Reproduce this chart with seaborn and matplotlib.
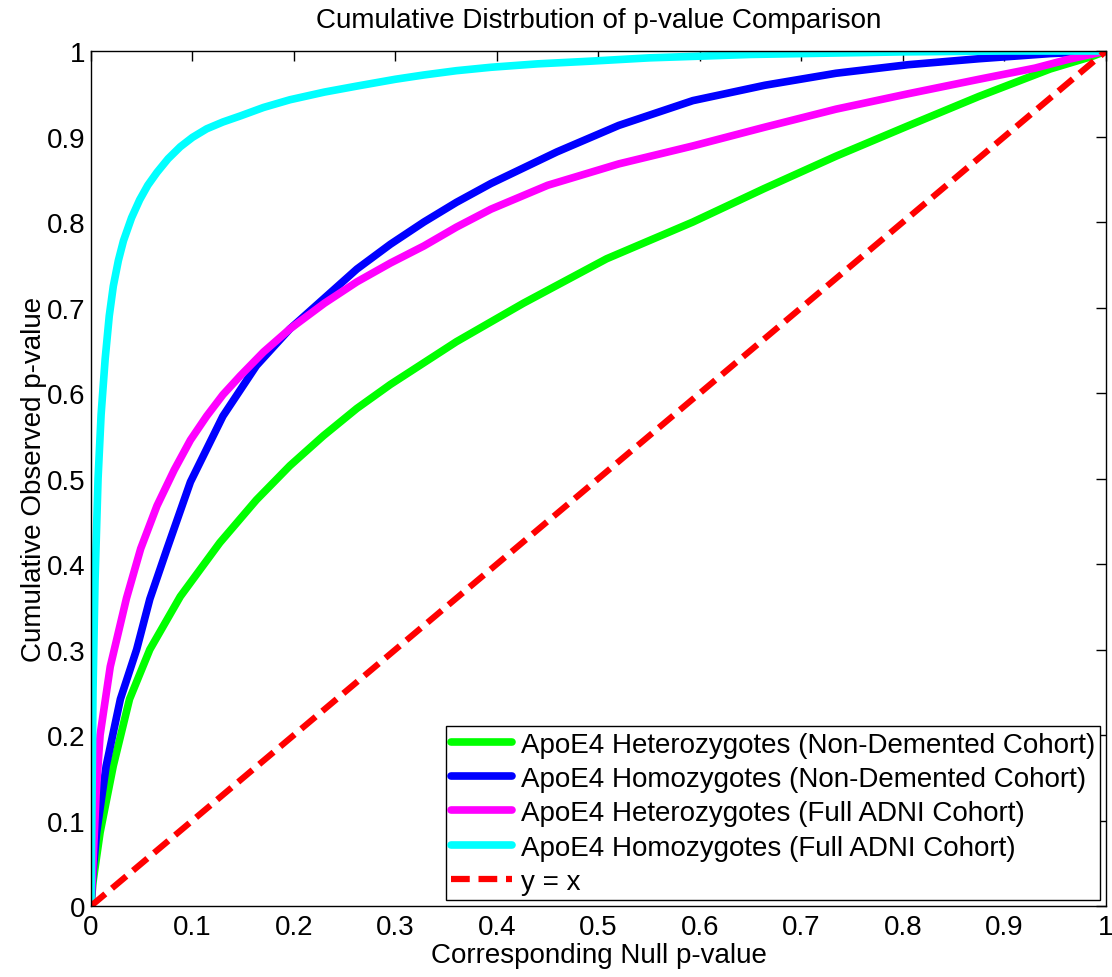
import seaborn as sns
import matplotlib.pyplot as plt

# values (null p-value -> cumulative observed p-value)
het_nd_x = [0, 0.002, 0.009, 0.022, 0.038, 0.058, 0.088, 0.127, 0.163, 0.196, 0.229, 0.262, 0.295,
            0.36, 0.426, 0.508, 0.593, 0.663, 0.734, 0.804, 0.875, 0.945, 0.987, 1.0]
het_nd_y = [0, 0.028, 0.086, 0.164, 0.242, 0.30, 0.362, 0.425, 0.475, 0.515, 0.55, 0.582, 0.61,
            0.66, 0.705, 0.757, 0.80, 0.839, 0.877, 0.912, 0.947, 0.979, 0.994, 1.0]

hom_nd_x = [0, 0.002, 0.0056, 0.015, 0.029, 0.045, 0.058, 0.075, 0.098, 0.13, 0.163, 0.196,
            0.229, 0.262, 0.295, 0.328, 0.36, 0.394, 0.459, 0.52, 0.593, 0.664, 0.734, 0.805,
            0.875, 0.945, 1.0]
hom_nd_y = [0, 0.04, 0.086, 0.164, 0.242, 0.30, 0.359, 0.418, 0.496, 0.573, 0.632, 0.675,
            0.71, 0.745, 0.774, 0.80, 0.823, 0.845, 0.882, 0.913, 0.942, 0.96, 0.974, 0.984,
            0.991, 0.997, 1.0]

het_full_x = [0, 0.002, 0.005, 0.009, 0.019, 0.035, 0.049, 0.065, 0.082, 0.098, 0.114, 0.13,
              0.147, 0.17, 0.196, 0.23, 0.262, 0.295, 0.328, 0.36, 0.394, 0.45, 0.52, 0.593,
              0.664, 0.734, 0.805, 0.875, 0.93, 0.962, 1.0]
het_full_y = [0, 0.05, 0.13, 0.2, 0.28, 0.36, 0.418, 0.468, 0.51, 0.545, 0.573, 0.598,
              0.62, 0.648, 0.675, 0.705, 0.73, 0.752, 0.772, 0.794, 0.815, 0.843, 0.868, 0.889,
              0.911, 0.932, 0.95, 0.967, 0.98, 0.99, 1.0]

hom_full_x = [0, 0.001, 0.002, 0.004, 0.007, 0.01, 0.014, 0.018, 0.022, 0.027, 0.032, 0.04,
              0.048, 0.056, 0.065, 0.076, 0.088, 0.1, 0.114, 0.13, 0.147, 0.17, 0.196, 0.23,
              0.262, 0.3, 0.328, 0.36, 0.394, 0.44, 0.49, 0.55, 0.6, 0.65, 0.7, 0.8, 0.9, 1.0]
hom_full_y = [0, 0.12, 0.25, 0.38, 0.5, 0.575, 0.64, 0.69, 0.725, 0.755, 0.778, 0.805,
              0.826, 0.843, 0.858, 0.874, 0.888, 0.899, 0.909, 0.917, 0.924, 0.934, 0.943, 0.952,
              0.959, 0.967, 0.972, 0.977, 0.981, 0.985, 0.988, 0.992, 0.994, 0.996, 0.997, 0.999,
              1.0, 1.0]

ref_x = [0, 1]
ref_y = [0, 1]

labels = ["ApoE4 Heterozygotes (Non-Demented Cohort)",
          "ApoE4 Homozygotes (Non-Demented Cohort)",
          "ApoE4 Heterozygotes (Full ADNI Cohort)",
          "ApoE4 Homozygotes (Full ADNI Cohort)",
          "y = x"]
colors = ["#00ff00", "#0000ff", "#ff00ff", "#00ffff", "#ff0000"]

tick_vals = [0, 0.1, 0.2, 0.3, 0.4, 0.5, 0.6, 0.7, 0.8, 0.9, 1]
tick_labels = ["0", "0.1", "0.2", "0.3", "0.4", "0.5", "0.6", "0.7", "0.8", "0.9", "1"]


sns.set_theme(style="white")
plt.rcParams['font.family'] = ['Liberation Sans', 'DejaVu Sans']
plt.rcParams['text.color'] = 'black'
plt.rcParams['axes.labelcolor'] = 'black'
plt.rcParams['xtick.color'] = 'black'
plt.rcParams['ytick.color'] = 'black'

fig = plt.figure(figsize=(11.12, 9.78), dpi=100)
ax = fig.add_axes([0.0818, 0.0726, 0.9128, 0.8742])

series = [(het_nd_x, het_nd_y), (hom_nd_x, hom_nd_y), (het_full_x, het_full_y), (hom_full_x, hom_full_y)]
for (xs, ys), lab, col in zip(series, labels[:4], colors[:4]):
    sns.lineplot(x=xs, y=ys, color=col, lw=5.5, label=lab, ax=ax, sort=True)

sns.lineplot(x=ref_x, y=ref_y, color=colors[4], lw=4.5, label=labels[4], ax=ax)
ax.lines[-1].set_dashes([3, 1.4])

ax.set_xlim(0, 1)
ax.set_ylim(0, 1)
ax.set_xticks(tick_vals)
ax.set_xticklabels(tick_labels)
ax.set_yticks(tick_vals)
ax.set_yticklabels(tick_labels)
ax.tick_params(direction="in", length=7, width=1, color="black", labelcolor="black",
               labelsize=20, top=True, right=True)
ax.tick_params(axis="x", pad=6)
ax.tick_params(axis="y", pad=4)
for sp in ax.spines.values():
    sp.set_color("black")
    sp.set_linewidth(1.0)

ax.set_title("Cumulative Distrbution of p-value Comparison", fontsize=20, pad=17, color="black")
ax.set_xlabel("Corresponding Null p-value", fontsize=20, labelpad=1, color="black")
ax.set_ylabel("Cumulative Observed p-value", fontsize=20, labelpad=0, color="black")

leg = ax.legend(loc="lower right", fontsize=20, frameon=True, fancybox=False,
                framealpha=1, edgecolor="black", borderaxespad=0.2,
                handlelength=2.2, labelspacing=0.3, borderpad=0.2, handletextpad=0.3)
leg.get_frame().set_linewidth(1.0)
for t in leg.get_texts():
    t.set_color("black")

plt.savefig("out.png", dpi=100)
